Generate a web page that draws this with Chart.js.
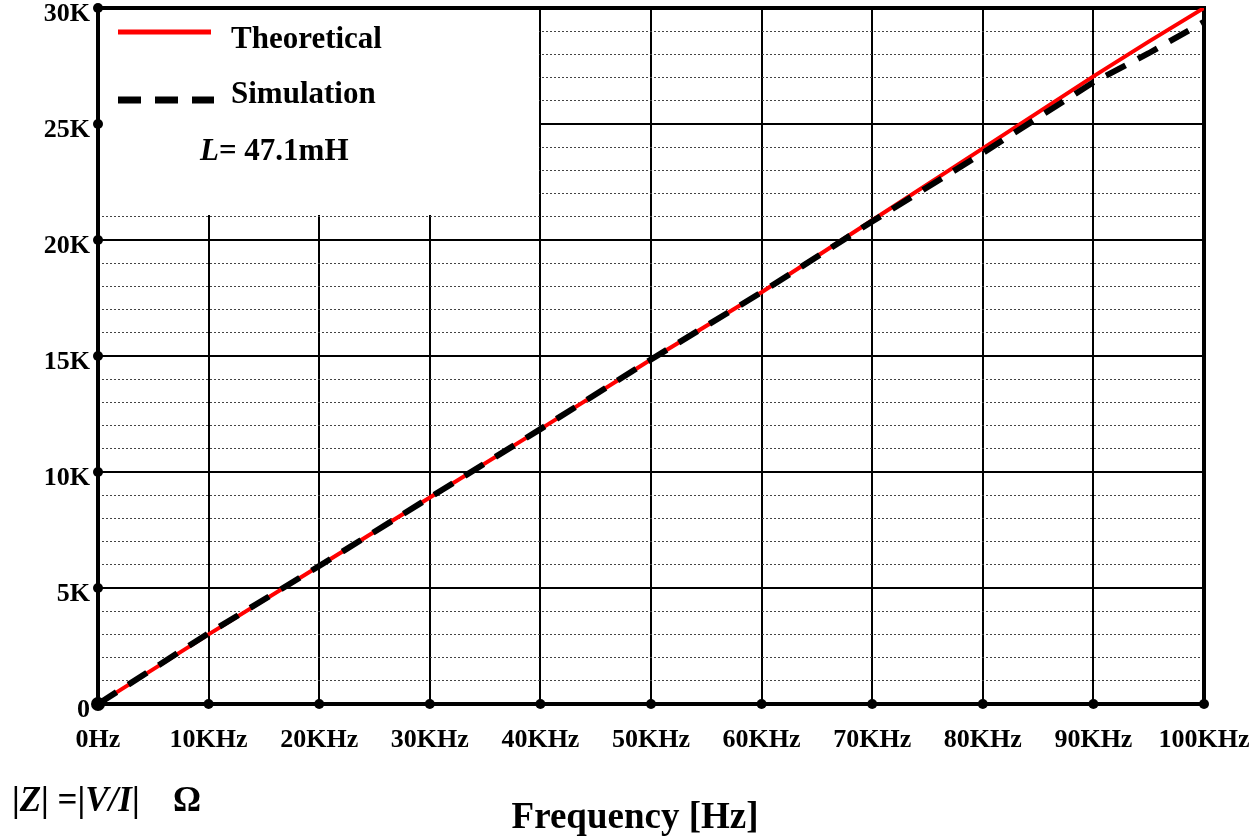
<!DOCTYPE html>
<html>
<head>
<meta charset="utf-8">
<script src="https://cdn.jsdelivr.net/npm/chart.js@4.4.0/dist/chart.umd.min.js"></script>
<style>
html, body { margin: 0; padding: 0; background: #fff; }
canvas { display: block; }
</style>
</head>
<body>
<canvas id="impedance" width="1252" height="836"></canvas>
<script>
// frequency in KHz, |Z| in KOhm
const freqKHz = [0, 10, 20, 30, 40, 50, 60, 70, 80, 90, 95, 100]
const theoreticalK = [0, 3.0, 5.95, 8.9, 11.85, 14.85, 17.75, 20.85, 23.95, 27.05, 28.55, 30.0]
const simulationK = [0, 3.05, 5.95, 8.9, 11.85, 14.85, 17.75, 20.8, 23.75, 26.8, 28.05, 29.4]

const xTickLabels = ['0Hz', '10KHz', '20KHz', '30KHz', '40KHz', '50KHz', '60KHz', '70KHz', '80KHz', '90KHz', '100KHz']
const yTickLabels = ['0', '5K', '10K', '15K', '20K', '25K', '30K']

const serif = '"Liberation Serif", "Times New Roman", serif'

const pts = (ys) => freqKHz.map((f, i) => ({x: f * 1000, y: ys[i] * 1000}))

const decor = {
  id: 'decor',
  beforeDatasetsDraw(chart) {
    const {ctx, chartArea: a, scales: {x, y}} = chart
    ctx.save()
    // white box behind the legend
    ctx.fillStyle = '#fff'
    const bx = Math.round(x.getPixelForValue(40000)) - 1
    const by = Math.floor(y.getPixelForValue(21000)) - 1
    ctx.fillRect(a.left, a.top, bx - a.left, by - a.top)
    // frame
    ctx.strokeStyle = '#000'
    ctx.lineWidth = 4
    ctx.strokeRect(a.left, a.top, a.right - a.left, a.bottom - a.top)
    ctx.restore()
  },
  afterDraw(chart) {
    const {ctx, chartArea: a, scales: {x, y}} = chart
    ctx.save()
    ctx.fillStyle = '#000'
    // dots on the axes
    x.ticks.forEach(t => {
      ctx.beginPath()
      ctx.arc(x.getPixelForValue(t.value), a.bottom, t.value === 0 ? 7 : 5, 0, Math.PI * 2)
      ctx.fill()
    })
    y.ticks.forEach(t => {
      ctx.beginPath()
      ctx.arc(a.left, y.getPixelForValue(t.value), 5, 0, Math.PI * 2)
      ctx.fill()
    })

    // legend
    ctx.strokeStyle = '#ff0000'
    ctx.lineWidth = 5
    ctx.beginPath(); ctx.moveTo(118, 32); ctx.lineTo(211, 32); ctx.stroke()
    ctx.strokeStyle = '#000'
    ctx.lineWidth = 7
    ctx.setLineDash([23, 14])
    ctx.beginPath(); ctx.moveTo(118, 100); ctx.lineTo(214, 100); ctx.stroke()
    ctx.setLineDash([])

    ctx.textBaseline = 'alphabetic'
    ctx.textAlign = 'left'
    ctx.font = 'bold 31px ' + serif
    ctx.fillText('Theoretical', 231, 48)
    ctx.fillText('Simulation', 231, 103)
    ctx.font = 'italic bold 31px ' + serif
    ctx.fillText('L', 200, 160)
    let w = ctx.measureText('L').width
    ctx.font = 'bold 31px ' + serif
    ctx.fillText('= 47.1mH', 200 + w, 160)

    // axis titles
    ctx.font = 'bold 37px ' + serif
    ctx.textAlign = 'center'
    ctx.fillText('Frequency [Hz]', 635, 828)

    ctx.textAlign = 'left'
    const parts = [['|', false], ['Z', true], ['| =|', false], ['V/I', true], ['|', false]]
    let cx = 12
    parts.forEach(([s, it]) => {
      ctx.font = (it ? 'italic ' : '') + 'bold 35px ' + serif
      ctx.fillText(s, cx, 811)
      cx += ctx.measureText(s).width
    })
    ctx.font = 'bold 35px ' + serif
    ctx.fillText('\u03A9', 173, 811)
    ctx.restore()
  }
}

const config = {
  type: 'line',
  data: {
    datasets: [{
      label: 'Simulation',
      data: pts(simulationK),
      borderColor: '#000',
      borderWidth: 6,
      borderDash: [22, 14],
      pointRadius: 0,
      tension: 0,
      fill: false
    }, {
      label: 'Theoretical',
      data: pts(theoreticalK),
      borderColor: '#ff0000',
      borderWidth: 4,
      pointRadius: 0,
      tension: 0,
      fill: false
    }]
  },
  options: {
    responsive: false,
    animation: false,
    layout: { padding: { top: 8, right: 48, left: 0, bottom: 0 } },
    plugins: { legend: { display: false }, tooltip: { enabled: false } },
    scales: {
      x: {
        type: 'linear',
        min: 0, max: 100000,
        border: { display: false },
        grid: { color: '#000', lineWidth: 2, drawTicks: false },
        ticks: {
          stepSize: 10000, autoSkip: false, maxRotation: 0, padding: 21, color: '#000',
          font: { family: serif, size: 26, weight: 'bold' },
          callback: (v) => xTickLabels[Math.round(v / 10000)]
        },
        afterFit: (s) => { s.height = 132; s.paddingLeft = 0; s.paddingRight = 0 }
      },
      y: {
        min: 0, max: 30000,
        position: 'left',
        border: { display: false },
        grid: { color: '#000', lineWidth: 2, drawTicks: false },
        ticks: {
          stepSize: 5000, padding: 8, labelOffset: 6, color: '#000',
          font: { family: serif, size: 26, weight: 'bold' },
          callback: (v) => yTickLabels[Math.round(v / 5000)]
        },
        afterFit: (s) => { s.width = 98; s.paddingTop = 0; s.paddingBottom = 0 }
      },
      y2: {
        min: 0, max: 30000,
        position: 'left',
        border: { display: false, dash: [2, 2] },
        grid: {
          drawTicks: false, lineWidth: 1,
          color: (c) => (c.tick && c.tick.value % 5000 === 0) ? 'rgba(0,0,0,0)' : '#444'
        },
        ticks: { stepSize: 1000, display: false },
        afterFit: (s) => { s.width = 0; s.paddingTop = 0; s.paddingBottom = 0 }
      }
    }
  },
  plugins: [decor]
}

let chart = new Chart(document.querySelector('#impedance'), config)
</script>
</body>
</html>
